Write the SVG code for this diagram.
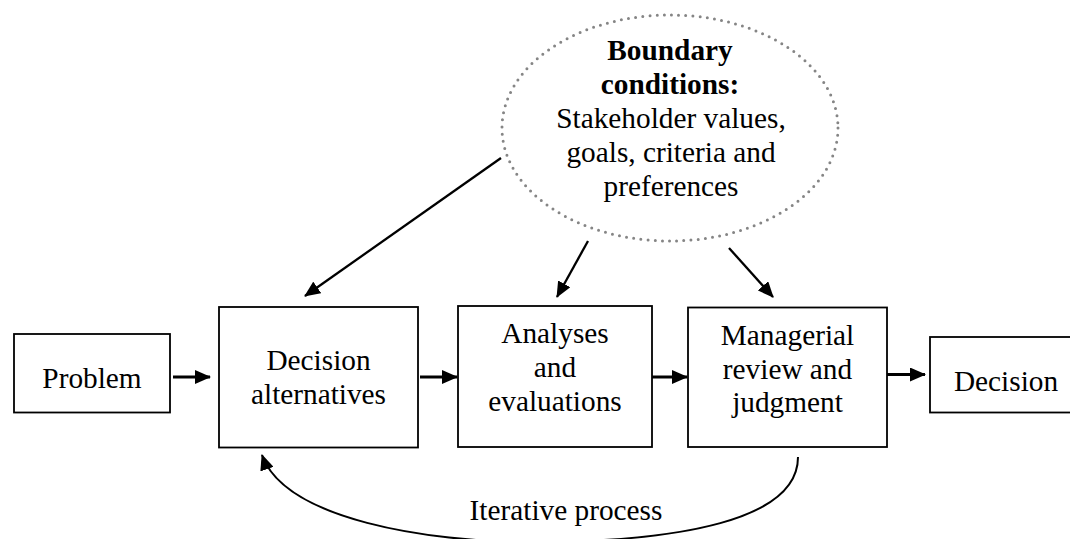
<svg xmlns="http://www.w3.org/2000/svg" width="1070" height="539" viewBox="0 0 1070 539">
<defs>
<style>
.box{fill:#fff;stroke:#000;stroke-width:1.8}
.t{font-family:"Liberation Serif","Times New Roman",serif;font-size:29.3px;fill:#000;text-anchor:middle}
.b{font-weight:bold}
.ln{fill:none;stroke:#000;stroke-width:2.3}
.h{stroke-width:3}
.cv{fill:none;stroke:#000;stroke-width:2}
.dot{fill:none;stroke:#858585;stroke-width:3;stroke-dasharray:0 7.2;stroke-linecap:round}
</style>
<marker id="ah" viewBox="0 0 16 14" refX="15" refY="7" markerWidth="16" markerHeight="14" markerUnits="userSpaceOnUse" orient="auto">
<path d="M0,0 L16,7 L0,14 z" fill="#000"/>
</marker>
</defs>
<rect width="1070" height="539" fill="#fff"/>
<g id="boundary">
<ellipse class="dot" cx="670" cy="128" rx="168" ry="113"/>
<text class="t b" x="670" y="60">Boundary</text>
<text class="t b" x="670" y="94">conditions:</text>
<text class="t" x="671" y="128">Stakeholder values,</text>
<text class="t" x="671" y="162">goals, criteria and</text>
<text class="t" x="671" y="196">preferences</text>
</g>
<g id="problem">
<rect class="box" x="14" y="334" width="156" height="78.5"/>
<text class="t" x="92" y="388">Problem</text>
</g>
<g id="alternatives">
<rect class="box" x="219" y="307" width="199" height="140.5"/>
<text class="t" x="318.5" y="370">Decision</text>
<text class="t" x="318.5" y="404">alternatives</text>
</g>
<g id="analyses">
<rect class="box" x="458" y="306" width="194" height="141"/>
<text class="t" x="555" y="343">Analyses</text>
<text class="t" x="555" y="377">and</text>
<text class="t" x="555" y="411">evaluations</text>
</g>
<g id="managerial">
<rect class="box" x="688" y="307.5" width="199" height="139.5"/>
<text class="t" x="787.5" y="345">Managerial</text>
<text class="t" x="787.5" y="379">review and</text>
<text class="t" x="787.5" y="412">judgment</text>
</g>
<g id="decision">
<rect class="box" x="930" y="337" width="152" height="75.5"/>
<text class="t" x="1006" y="391">Decision</text>
</g>
<g id="connectors">
<line class="ln h" x1="173" y1="377" x2="210" y2="377" marker-end="url(#ah)"/>
<line class="ln h" x1="420" y1="377" x2="457" y2="377" marker-end="url(#ah)"/>
<line class="ln h" x1="652" y1="377" x2="687" y2="377" marker-end="url(#ah)"/>
<line class="ln h" x1="887" y1="374.5" x2="925" y2="374.5" marker-end="url(#ah)"/>
<line class="ln" x1="501" y1="158" x2="305" y2="296" marker-end="url(#ah)"/>
<line class="ln" x1="588" y1="241" x2="557" y2="297" marker-end="url(#ah)"/>
<line class="ln" x1="729" y1="248" x2="773" y2="297" marker-end="url(#ah)"/>
<path class="cv" d="M798,457 C798,520 680,542 530,542 C430,542 285,520 262,455" marker-end="url(#ah)"/>
<text class="t" x="566" y="520">Iterative process</text>
</g>
</svg>
